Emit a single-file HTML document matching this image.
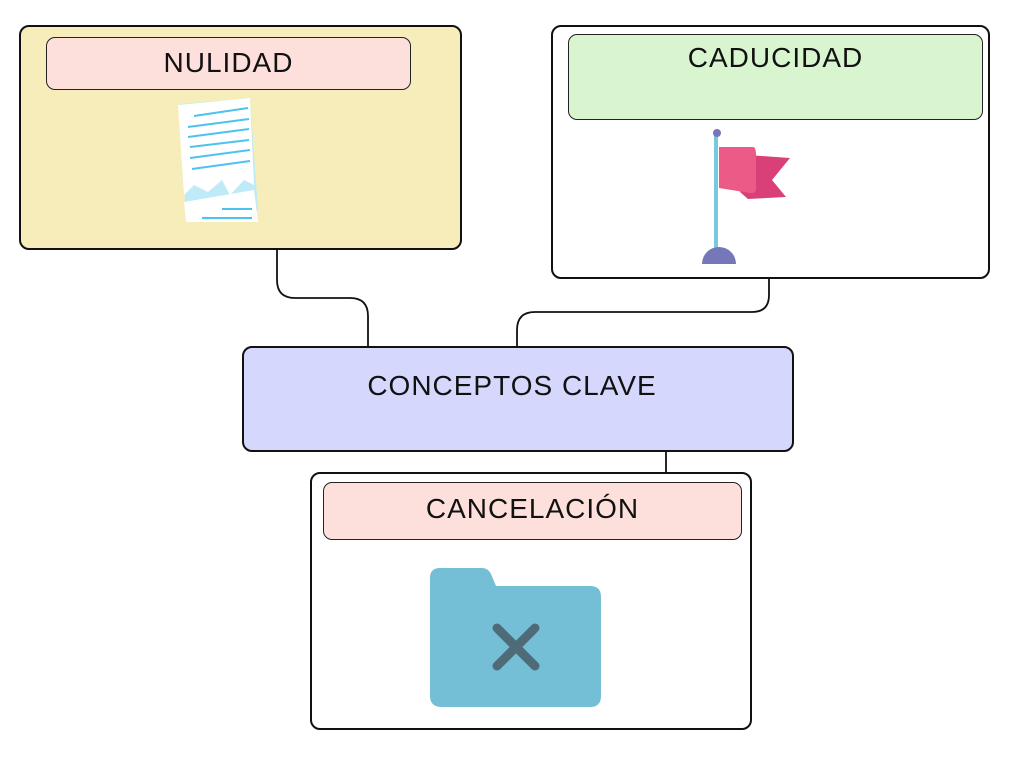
<!DOCTYPE html>
<html><head><meta charset="utf-8"><style>
body{margin:0;width:1024px;height:768px;background:#fff;position:relative;overflow:hidden;font-family:"Liberation Sans",sans-serif}
.b{position:absolute;border:2px solid #111;border-radius:10px;box-sizing:border-box}
.t{position:absolute;border:1px solid #222;border-radius:9px;box-sizing:border-box;text-align:center;font-size:28px;letter-spacing:1px;color:#111}
</style></head><body>
<svg width="1024" height="768" style="position:absolute;left:0;top:0" fill="none" stroke="#111" stroke-width="1.8">
<path d="M277 250 V280 Q277 298 295 298 H350 Q368 298 368 316 V346"/>
<path d="M769 279 V295 Q769 312 752 312 H535 Q517 312 517 330 V346"/>
<path d="M666 452 V472"/>
</svg>
<div class="b" style="left:19px;top:25px;width:443px;height:225px;background:#f6edbb"></div>
<div class="t" style="left:46px;top:37px;width:365px;height:53px;background:#fde0dc;line-height:50px">NULIDAD</div>
<svg style="position:absolute;left:170px;top:90px" width="100" height="140">
<polygon points="10,14 80,8 88,120 16,128" fill="#bfeaf8"/>
<polygon points="8,15 80,8 84,95 74,90 60,105 52,90 38,102 24,95 14,105" fill="#fff"/>
<polygon points="14,112 84,100 88,132 16,132" fill="#fff"/>
<g stroke="#4cc3ee" stroke-width="2"><line x1="24" y1="26" x2="78" y2="18"/><line x1="18" y1="37" x2="79" y2="29"/><line x1="18" y1="47" x2="79" y2="39"/><line x1="20" y1="57" x2="79" y2="50"/><line x1="20" y1="68" x2="80" y2="60"/><line x1="22" y1="79" x2="80" y2="71"/><line x1="52" y1="119" x2="82" y2="119"/><line x1="32" y1="128" x2="82" y2="128"/></g>
</svg>
<div class="b" style="left:551px;top:25px;width:439px;height:254px;background:#fff"></div>
<div class="t" style="left:568px;top:34px;width:415px;height:86px;background:#d8f5d0;line-height:46px">CADUCIDAD</div>
<svg style="position:absolute;left:690px;top:120px" width="110" height="150">
<rect x="24" y="12" width="4" height="118" fill="#79c9dc"/>
<circle cx="27" cy="13" r="4" fill="#7577b8"/>
<path d="M12 144 A15 15 0 0 1 46 144 Z" fill="#7577b8"/>
<polygon points="58,35 100,38 82,60 96,77 58,79 50,72" fill="#d94078"/>
<path d="M29 27 H63 Q66 27 66 35 V68 Q66 74 60 73 L29 68 Z" fill="#ec5a87"/>
</svg>
<div class="b" style="left:242px;top:346px;width:552px;height:106px;background:#d6d7fd"></div>
<div style="position:absolute;left:242px;top:370px;width:540px;text-align:center;font-size:28px;letter-spacing:1px;color:#111">CONCEPTOS CLAVE</div>
<div class="b" style="left:310px;top:472px;width:442px;height:258px;background:#fff"></div>
<div class="t" style="left:323px;top:482px;width:419px;height:58px;background:#fde0dc;line-height:52px">CANCELACIÓN</div>
<svg style="position:absolute;left:430px;top:566px" width="172" height="142">
<path d="M0 12 Q0 2 10 2 H52 Q58 2 61 8 L66 20 H160 Q171 20 171 31 V130 Q171 141 160 141 H12 Q0 141 0 130 Z" fill="#74bed6"/>
<g stroke="#4f6b78" stroke-width="9" stroke-linecap="round"><line x1="67" y1="62" x2="105" y2="100"/><line x1="105" y1="62" x2="67" y2="100"/></g>
</svg>
</body></html>
